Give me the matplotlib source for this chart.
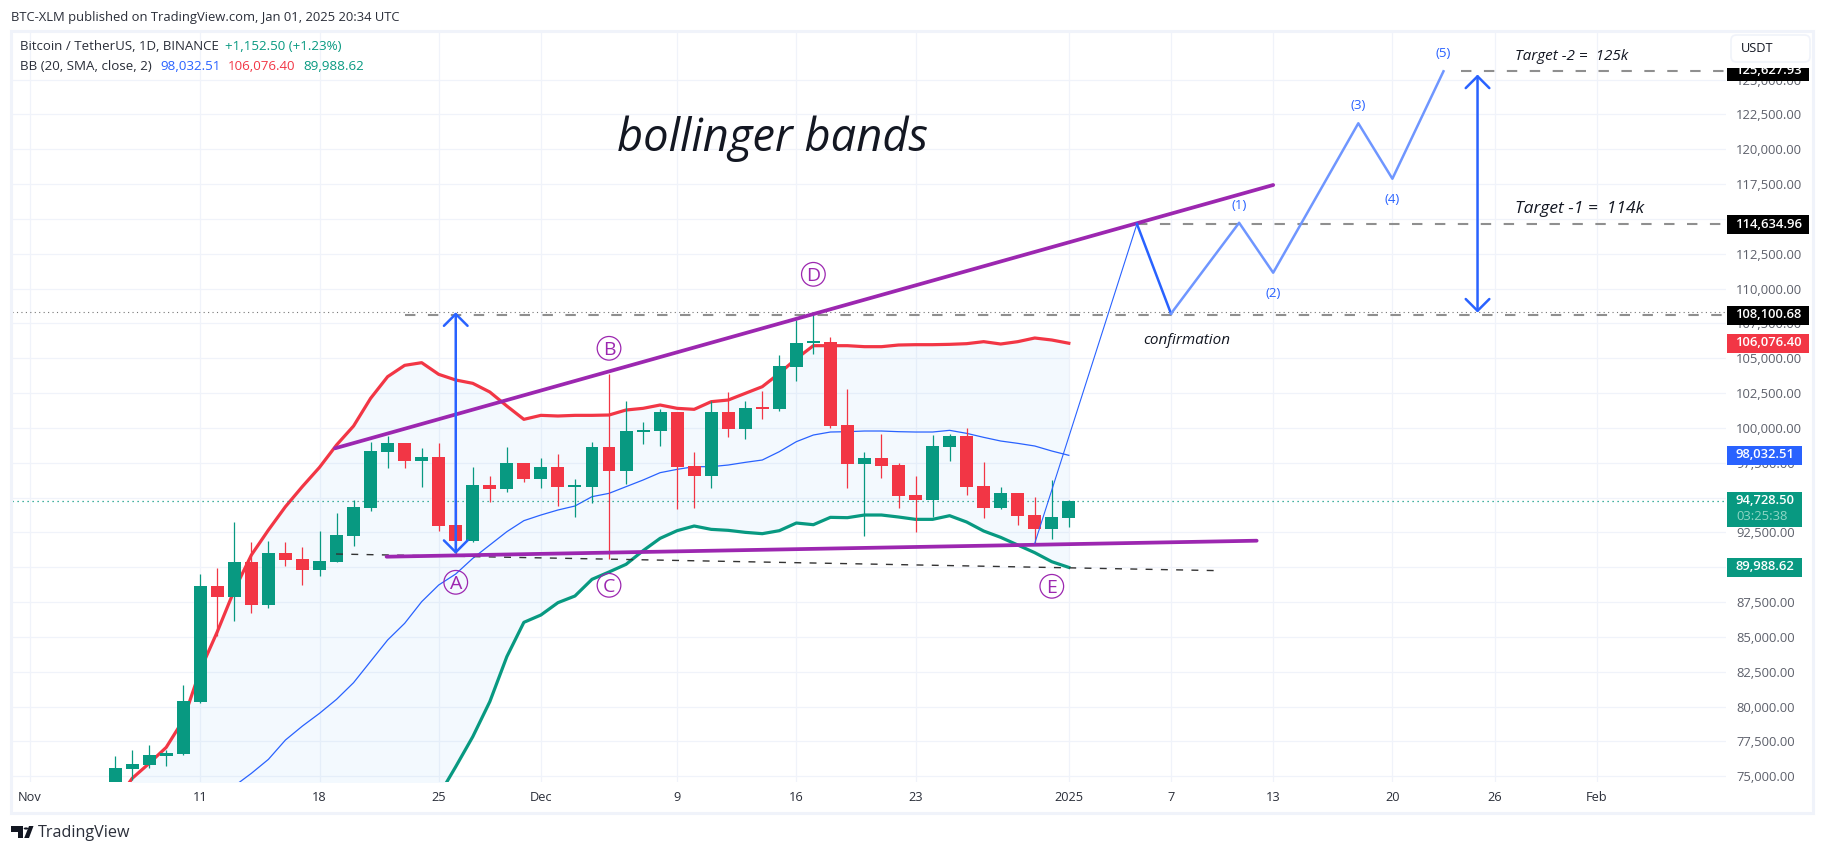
import numpy as np
import matplotlib
matplotlib.use("Agg")
import matplotlib.pyplot as plt
from matplotlib.patches import Rectangle, FancyBboxPatch, Polygon, Circle

W, H = 1824, 852
UP, DOWN, BLUE, PURPLE = "#089981", "#f23645", "#2962ff", "#9c27b0"
FONT = "Open Sans"
plt.rcParams["font.family"] = [FONT, "DejaVu Sans"]

# ---------- data (x = days since 1 Nov 2024) ----------
first_day = 5
opens = [68742,75548,75811,76456,76600,80331,88655,87866,90378,87292,91024,90593,89804,90378,92244,94252,98270,98916,97624,97911,93032,91884,95902,95615,97481,
         96333,97194,95759,95759,98629,96907,99705,99777,101141,97266,96548,101140,99921,101428,101356,104370,106092,106164,100208,97409,97840,97337,95185,94825,98629,99418,95830,94252,95328,93749,92744,
         93534]
highs = [76456,76887,77246,76887,81551,89517,89947,93248,91813,91885,91813,91454,92602,93894,94826,98988,99418,98916,98557,98916,94791,97194,96548,98629,97481,
         97840,98127,96333,98988,103900,101930,100423,101356,101141,98270,101930,102576,101930,102648,105231,107742,108340,106522,102791,98270,99562,97481,96548,99490,99562,99992,97552,95758,95328,95041,96261,
         94825]
lows = [68700,74700,75619,75739,76528,80260,85068,86144,86718,87077,90091,88727,89373,90378,91526,94036,97122,97122,95759,92601,90791,91812,94682,95400,96117,
        95687,94395,93606,94610,90592,95974,98844,98701,94180,94252,95687,99346,99203,100638,101212,103365,105303,99992,95687,92242,96404,94252,92529,93606,97624,95184,93534,94180,93032,91668,92027,
        92888]
closes = [75595,75882,76528,76671,80403,88655,87866,90378,87292,91024,90521,89804,90450,92315,94325,98342,98916,97624,97911,92960,91884,95902,95615,97481,96333,
          97194,95759,95831,98629,96907,99777,99849,101141,97194,96548,101141,99921,101428,101356,104441,106092,106164,100136,97409,97840,97265,95113,94825,98701,99418,95758,94252,95328,93677,92744,93606,
          94754]
bb_upper = [73100,74853,75930,77078,79040,82628,85379,88369,90880,92674,94349,95800,97170,98773,100136,102121,103676,104489,104681,103844,103437,103198,102576,101571,100614,
            100901,100854,100901,100901,100925,101284,101404,101643,101404,101332,101882,102001,102480,102958,103915,104968,105900,105900,105900,105829,105829,105948,105972,105972,105996,106044,106188,106020,106188,106451,106307,
            106076]
bb_basis = [69000,69500,70000,70500,71300,72300,73300,74303,75213,76217,77604,78609,79518,80523,81719,83250,84780,85977,87531,88727,89517,90640,91596,92553,93343,
            93749,94108,94395,95065,95304,95783,96261,96787,97026,97218,97218,97337,97528,97696,98294,99012,99490,99705,99729,99777,99777,99729,99705,99705,99825,99610,99322,99059,98892,98701,98342,
            98032]
bb_lower = [64900,63947,64070,63922,63560,61972,61221,60237,59546,59760,60859,61418,61866,62273,63302,64379,65884,67465,70381,73610,75691,77843,80355,83584,86048,
            86574,87459,87938,89134,89660,90210,91190,92075,92625,92960,92720,92649,92505,92410,92625,93175,93055,93582,93558,93749,93749,93606,93438,93438,93701,93247,92601,92146,91597,91046,90400,
            89989]

x_tick_days = [0, 10, 17, 24, 30, 38, 45, 52, 61, 67, 73, 80, 86, 92]
x_tick_labels = ["Nov", "11", "18", "25", "Dec", "9", "16", "23", "2025", "7", "13", "20", "26", "Feb"]
y_ticks = list(range(75000, 125001, 2500))

last_price = 94728.5
alltime_high = 108338
target_levels = [125627.93, 114634.96, 108100.68]
target_starts = [84, 65, 22]

wedge_top_d, wedge_top_v = [17.91, 73.0], [98536, 117430]
wedge_low_d, wedge_low_v = [20.94, 72.03], [90758, 91906]
support_d, support_v = [17.97, 69.97], [90951, 89753]
rise_d, rise_v = [59, 65], [91720, 114635]
pull_d, pull_v = [65, 67], [114635, 108200]
wave_d = [67, 71, 73, 78, 80, 83]
wave_v = [108200, 114720, 111136, 121860, 117880, 125590]
wave_label_d = [71, 73, 78, 80, 83]
wave_label_v = [115950, 109650, 123150, 116380, 126850]
wave_labels = ["(1)", "(2)", "(3)", "(4)", "(5)"]
point_labels = ["A", "B", "C", "D", "E"]
point_d = [25, 34, 34, 46, 60]
point_v = [88921, 105712, 88706, 111022, 88634]
arrow_d = [25, 85]
arrow_low = [90951, 108274]
arrow_high = [108300, 125359]

# ---------- figure ----------
fig = plt.figure(figsize=(W / 100, H / 100), dpi=100, facecolor="white")
def fx(x): return x / W
def fy(y): return 1 - y / H
ax = fig.add_axes([fx(12), fy(782), (1726 - 12) / W, (782 - 32) / H])
ax.set_xlim(-1.057, 99.59)
ax.set_ylim(74591, 128409)
for s in ax.spines.values():
    s.set_visible(False)
GRID = "#f0f3fa"
ax.set_axisbelow(True)
ax.grid(True, color=GRID, lw=0.9)
ax.set_xticks(x_tick_days, x_tick_labels)
ax.set_yticks(y_ticks, [f"{v:,.2f}" for v in y_ticks])
ax.yaxis.tick_right()
ax.tick_params(axis="y", length=0, pad=7.2, labelsize=9.4, labelcolor="#5d606b")
ax.tick_params(axis="x", length=0, pad=6.8, labelsize=9.2, labelcolor="#2a2e39")
for t in ax.get_yticklabels():
    t.set_ha("left")

days = np.arange(first_day, first_day + len(opens))
o, h, l, c = map(np.array, (opens, highs, lows, closes))
cols = [UP if ci >= oi else DOWN for oi, ci in zip(o, c)]

ax.fill_between(days, bb_lower, bb_upper, color="#2196f3", alpha=0.05, lw=0, zorder=1)
ax.plot(days, bb_upper, color=DOWN, lw=2.3, zorder=2, solid_joinstyle="round")
ax.plot(days, bb_basis, color=BLUE, lw=0.9, zorder=2)
ax.plot(days, bb_lower, color=UP, lw=2.3, zorder=2)

ax.vlines(days, l, h, colors=cols, lw=0.9, zorder=3)
body = np.maximum(np.abs(c - o), 110)
ax.bar(days, body, bottom=np.minimum(o, c), width=0.76, color=cols, lw=0, zorder=3)

# horizontal reference lines
ax.axhline(last_price, color=UP, lw=0.9, ls=(0, (1, 3)), zorder=2)
ax.axhline(alltime_high, color="#777777", lw=0.8, ls=(0, (1, 3)), zorder=2)
for lev, st in zip(target_levels, target_starts):
    ax.plot([st, 99.59], [lev, lev], color="#8f8f8f", lw=1.5, dashes=(5, 6), zorder=4)

# trendlines
ax.plot(support_d, support_v, color="#333333", lw=1.0, dashes=(5, 6), zorder=4)
ax.plot(wedge_top_d, wedge_top_v, color=PURPLE, lw=2.7, zorder=5, solid_capstyle="round")
ax.plot(wedge_low_d, wedge_low_v, color=PURPLE, lw=2.7, zorder=5, solid_capstyle="round")

# projection
ax.plot(rise_d, rise_v, color=BLUE, lw=0.8, zorder=6)
ax.plot(pull_d, pull_v, color=BLUE, lw=1.8, zorder=6)
ax.plot(wave_d, wave_v, color="#6f96ff", lw=1.8, zorder=6)
for d, v, s in zip(wave_label_d, wave_label_v, wave_labels):
    ax.text(d, v, s, color=BLUE, fontsize=9.6, ha="center", va="center", zorder=7)

# arrows
for d, lo, hi in zip(arrow_d, arrow_low, arrow_high):
    ax.annotate("", xy=(d, hi), xytext=(d, lo), zorder=7,
                arrowprops=dict(arrowstyle="<->,head_length=8.5,head_width=8.5", color=BLUE,
                                lw=1.8, shrinkA=0, shrinkB=0, mutation_scale=1))

# lettered points
ax.scatter(point_d, point_v, s=290, facecolors="none", edgecolors=PURPLE, linewidths=0.9, zorder=7)
for d, v, s in zip(point_d, point_v, point_labels):
    ax.text(d, v, s, color=PURPLE, fontsize=14, ha="center", va="center_baseline", zorder=8)

# notes
ax.text(34.45, 120780, "bollinger bands", fontsize=32.6, style="italic", color="#131722", ha="left", va="center", zorder=8)
ax.text(67.9, 106290, "confirmation", fontsize=11, style="italic", color="#131722", ha="center", va="center", zorder=8)
ax.text(87.2, 126650, "Target -2 =  125k", fontsize=11, style="italic", color="#131722", ha="left", va="center", zorder=8)
ax.text(87.2, 115700, "Target -1 =  114k", fontsize=12.5, style="italic", color="#131722", ha="left", va="center", zorder=8)

# ---------- furniture in pixel positions ----------
def rect(x0, y0, x1, y1, **kw):
    p = Rectangle((fx(x0), fy(y1)), (x1 - x0) / W, (y1 - y0) / H, transform=fig.transFigure, **kw)
    fig.add_artist(p)
    return p
def txt(x, y, s, **kw):
    kw.setdefault("va", "center")
    kw.setdefault("ha", "left")
    return fig.text(fx(x), fy(y), s, **kw)

rect(11, 31, 1813, 813, fill=False, ec=GRID, lw=2.2, zorder=1)

tags = [
    ("125,627.93", 62, 81, 1809, "#000000", 71),
    ("114,634.96", 215, 234, 1809, "#000000", 224),
    ("108,100.68", 306, 325, 1809, "#000000", 315),
    ("106,076.40", 334, 353, 1809, DOWN, 343),
    ("98,032.51", 446, 465, 1802, BLUE, 455),
    ("94,728.50", 492, 527, 1802, UP, 500),
    ("89,988.62", 558, 577, 1802, UP, 567),
]
for s, y0, y1, x1, col, yt in tags:
    rect(1727, y0, x1, y1, fc=col, ec="none", zorder=2)
    txt(1736, yt, s, color="white", fontsize=9.4, fontweight="semibold", zorder=3)
txt(1736, 516, "03:25:38", color="#8fd6c5", fontsize=9.4, zorder=3)
rect(1726, 58, 1811, 68, fc="white", ec="none", zorder=4)
box = FancyBboxPatch((fx(1731), fy(62)), (1810 - 1731) / W, (62 - 35) / H,
                     boxstyle="round,pad=0,rounding_size=0.003", transform=fig.transFigure,
                     fc="white", ec=GRID, lw=1.2, zorder=5, mutation_aspect=2.14)
fig.add_artist(box)
txt(1741, 49, "USDT", color="#131722", fontsize=9.2, zorder=6)

txt(11.5, 17, "BTC-XLM published on TradingView.com, Jan 01, 2025 20:34 UTC", color="#2a2e39", fontsize=9.35)
txt(20.5, 47, "Bitcoin / TetherUS, 1D, BINANCE", color="#2a2e39", fontsize=9.5)
txt(225, 47, "+1,152.50 (+1.23%)", color=UP, fontsize=9.6)
txt(20.5, 66, "BB (20, SMA, close, 2)", color="#2a2e39", fontsize=9.6)
txt(160, 66, "98,032.51", color=BLUE, fontsize=9.6)
txt(228, 66, "106,076.40", color=DOWN, fontsize=9.6)
txt(303, 66, "89,988.62", color=UP, fontsize=9.6)

# TradingView mark
def poly(pts, **kw):
    fig.add_artist(Polygon([(fx(x), fy(y)) for x, y in pts], closed=True, transform=fig.transFigure, **kw))
poly([(11, 826), (23.5, 826), (23.5, 838), (17.5, 838), (17.5, 832), (11, 832)], fc="#131722", ec="none", zorder=3)
poly([(29, 826), (33.5, 826), (29, 838), (24.2, 838)], fc="#131722", ec="none", zorder=3)
fig.add_artist(Circle((fx(26), fy(828.5)), 2.3 / W, transform=fig.transFigure, fc="#131722", ec="none", zorder=3))
txt(38, 833, "TradingView", color="#2a2e39", fontsize=11.6)

fig.savefig("out.png", dpi=100, facecolor="white")
